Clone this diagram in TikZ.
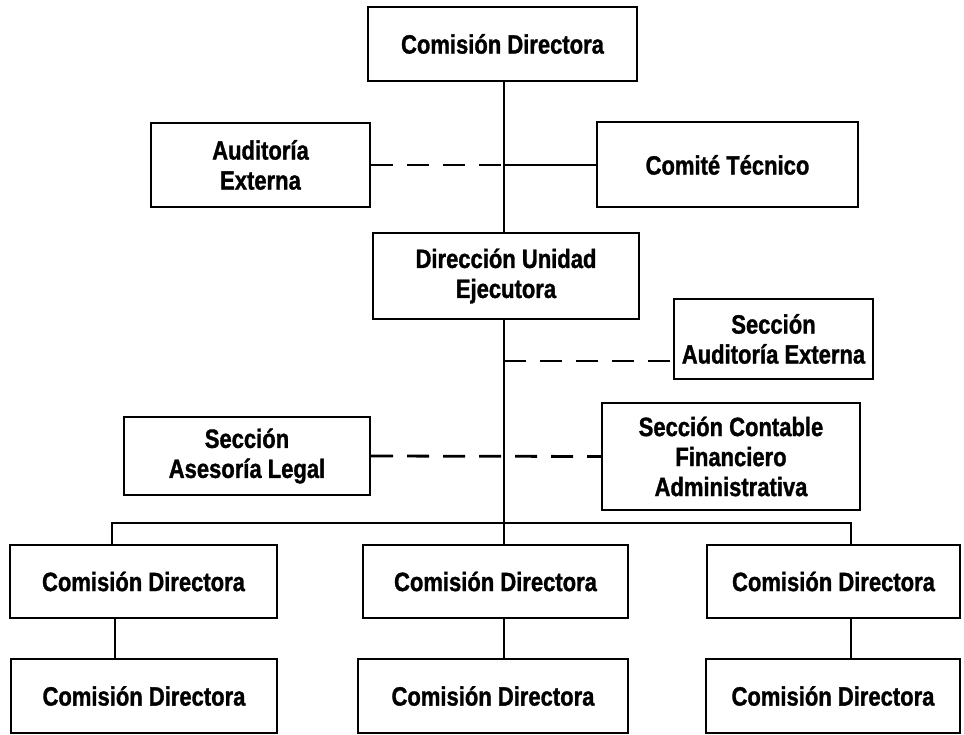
\documentclass[tikz,border=0pt]{standalone}
\usepackage{fontspec}
\setmainfont{Liberation Sans}[FakeStretch=0.83, FakeBold=1.2]
\begin{document}
\begin{tikzpicture}[x=1pt,y=-1pt,
  box/.style={draw, line width=2pt, rectangle, align=center, inner sep=0pt,
    font=\fontsize{26.5}{30}\selectfont\bfseries},
  link/.style={line width=1.6pt},
  dashlink/.style={line width=2.8pt, dash pattern=on 22pt off 14pt}]
\useasboundingbox (0,0) rectangle (964,735);

% boxes
\node[box, minimum width=269pt, minimum height=74pt] (cd) at (502.5,44) {Comisión Directora};
\node[box, minimum width=219pt, minimum height=84pt] (aud) at (260.5,165) {Auditoría\\Externa};
\node[box, minimum width=261pt, minimum height=85pt] (ct) at (727.5,165) {Comité Técnico};
\node[box, minimum width=266pt, minimum height=86pt] (due) at (506,276) {Dirección Unidad\\Ejecutora};
\node[box, minimum width=199pt, minimum height=80pt] (sae) at (773.5,339) {Sección\\Auditoría Externa};
\node[box, minimum width=246pt, minimum height=78pt] (sal) at (247,456) {Sección\\Asesoría Legal};
\node[box, minimum width=258pt, minimum height=107pt] (scf) at (731,456.5) {Sección Contable\\Financiero\\Administrativa};

\node[box, minimum width=267pt, minimum height=73pt] (m1) at (143.5,581.5) {Comisión Directora};
\node[box, minimum width=265pt, minimum height=73pt] (m2) at (495.5,581.5) {Comisión Directora};
\node[box, minimum width=253pt, minimum height=73pt] (m3) at (833.5,581.5) {Comisión Directora};

\node[box, minimum width=266pt, minimum height=74pt] (b1) at (144,696) {Comisión Directora};
\node[box, minimum width=270pt, minimum height=74pt] (b2) at (493,696) {Comisión Directora};
\node[box, minimum width=254pt, minimum height=74pt] (b3) at (833,696) {Comisión Directora};

% reference points for the trunk and the distribution bus
\coordinate (sx) at (504,0);
\coordinate (bus) at (504,523);
\coordinate (dl) at (112,523);
\coordinate (dr) at (851,523);
\coordinate (vl) at (115,0);
\coordinate (vr) at (851,0);

% trunk
\draw[link] (cd.south -| sx) -- (due.north -| sx);
\draw[link] (due.south -| sx) -- (bus);

% staff links
\draw[dashlink] (aud.east) -- (aud.east -| sx);
\draw[link] (aud.east -| sx) -- (ct.west);
\draw[dashlink] ([yshift=-22pt]sae.west -| sx) -- ([yshift=-22pt]sae.west);
\draw[dashlink] (sal.east) -- (scf.west);

% bus to the three branches
\draw[link] (m1.north -| dl) -- (dl) -- (dr) -- (m3.north -| dr);
\draw[link] (bus) -- (m2.north -| bus);

% branch to sub-unit
\draw[link] (m1.south -| vl) -- (b1.north -| vl);
\draw[link] (m2.south -| sx) -- (b2.north -| sx);
\draw[link] (m3.south -| vr) -- (b3.north -| vr);
\end{tikzpicture}
\end{document}
